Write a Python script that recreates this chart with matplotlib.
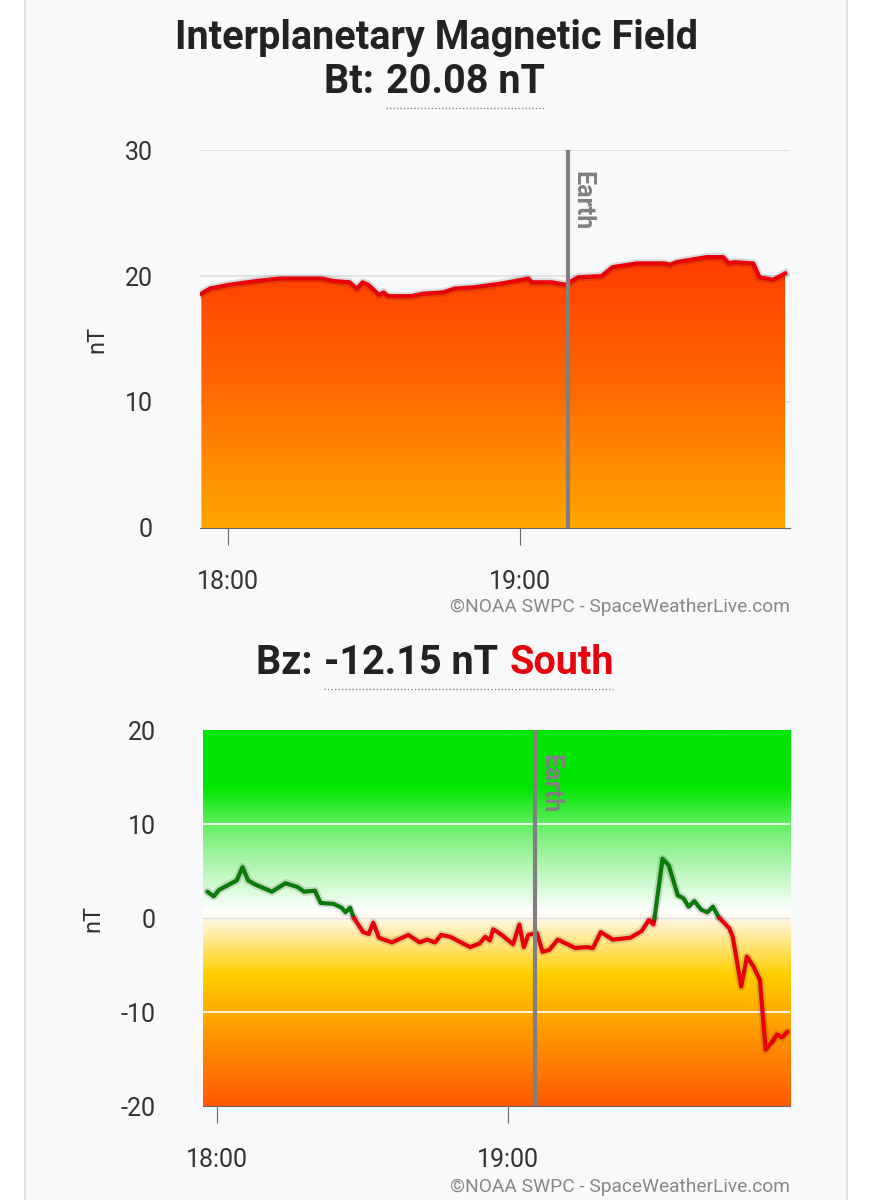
import numpy as np
import matplotlib
matplotlib.use("Agg")
from matplotlib import pyplot as plt, patches
from matplotlib.colors import LinearSegmentedColormap
import matplotlib.patheffects as pe

plt.rcParams['font.family'] = ['Roboto', 'DejaVu Sans']
plt.rcParams['axes.unicode_minus'] = False

# minutes relative to 18:00
bt_min = [-5.47, -3.72, 0.14, 5.85, 10.64, 19.27, 21.72, 24.99, 26.51, 27.67, 28.84, 31.06, 31.99,
          32.93, 37.71, 40.16, 44.25, 46.58, 50.43, 56.15, 61.75, 62.45, 66.53, 69.45, 70.62, 72.02,
          76.8, 79.02, 84.04, 89.76, 90.92, 92.2, 98.39, 101.77, 102.94, 104.1, 107.96, 109.24,
          112.04, 114.5]
bt_val = [18.6, 19.0, 19.3, 19.6, 19.8, 19.8, 19.6, 19.5, 19.0, 19.5, 19.3, 18.5, 18.7, 18.4, 18.4, 18.6,
          18.7, 19.0, 19.1, 19.4, 19.8, 19.5, 19.5, 19.3, 19.6, 19.9, 20.0, 20.7, 21.0, 21.0, 20.9,
          21.1, 21.5, 21.5, 21.0, 21.1, 21.0, 19.9, 19.7, 20.2]

bz_min = [-1.99, -0.70, 0.46, 4.08, 5.25, 6.41, 7.7, 11.31, 14.11, 16.57, 17.97, 20.18, 21.35, 24.03,
          25.67, 26.48, 27.42, 28.12, 30.1, 31.27, 32.2, 33.37, 36.05, 39.44, 41.77, 43.29, 44.92,
          46.22, 48.07, 52.16, 54.14, 55.31, 56.24, 56.94, 58.69, 61.03, 62.31, 63.24, 64.17, 65.93,
          67.09, 68.49, 70.24, 73.86, 76.19, 77.48, 79.11, 81.56, 85.18, 87.51, 89.03, 89.96, 90.2,
          91.83, 93.11, 94.98, 96.15, 97.2, 98.37, 99.77, 101.05, 102.22, 103.38, 105.6, 106.3,
          108.05, 109.22, 110.62, 111.9, 113.07, 114.7, 115.4, 116.45, 117.62]
bz_val = [2.8, 2.3, 3.0, 4.0, 5.4, 4.0, 3.6, 2.8, 3.7, 3.3, 2.8, 2.9, 1.6, 1.5, 1.1, 0.6,
          1.1, 0.1, -1.5, -1.7, -0.5, -2.1, -2.6, -1.8, -2.6, -2.3, -2.6, -1.8, -2.0, -3.1, -2.7, -2.0,
          -2.4, -1.2, -1.8, -2.8, -0.7, -3.1, -1.8, -1.6, -3.6, -3.4, -2.3, -3.2, -3.1, -3.2, -1.5,
          -2.3, -2.1, -1.4, -0.2, -0.7, 0.1, 6.3, 5.6, 2.4, 2.1, 1.2, 1.8, 0.9, 0.6, 1.2,
          0.1, -1.1, -2.0, -7.3, -4.1, -5.2, -6.6, -14.0, -13.0, -12.4, -12.7, -12.1]

tick_min = [0, 60]
tick_lbl = ['18:00', '19:00']
earth_bt = 69.86
earth_bz = 65.6

fig = plt.figure(figsize=(8.72, 12), dpi=100)
fig.add_artist(patches.Rectangle((25 / 872, -0.01), 822 / 872, 1.02, transform=fig.transFigure,
                                 facecolor='#f8f9fa', edgecolor='#d8d8d8', lw=1.2, zorder=-5))

glow = [pe.Stroke(linewidth=6, foreground=(0, 0, 0, 0.12)), pe.Normal()]
tc = '#333333'


def style_axes(ax, xlim, ylim, yticks):
    ax.set_xlim(*xlim)
    ax.set_ylim(*ylim)
    ax.set_facecolor('none')
    for s in ['top', 'right', 'left']:
        ax.spines[s].set_visible(False)
    ax.spines['bottom'].set_color('#666666')
    ax.set_yticks(yticks)
    ax.set_xticks(tick_min)
    ax.set_xticklabels(tick_lbl)
    ax.tick_params(axis='y', length=0, labelsize=18, labelcolor=tc, pad=34)
    ax.tick_params(axis='x', length=12, color='#666666', labelsize=18, labelcolor=tc, pad=18)
    ax.set_ylabel('nT', fontsize=17, color=tc, labelpad=12)


# ---- Bt ----
ax1 = fig.add_axes([200 / 872, 1 - 528 / 1200, 590 / 872, 378 / 1200])
xl1 = (-5.75, 115.5)
style_axes(ax1, xl1, (0, 30), [0, 10, 20, 30])
for g in [10, 20, 30]:
    ax1.axhline(g, color='#dddddd', lw=1.2, zorder=1)
cm1 = LinearSegmentedColormap.from_list('bt', ['#ffa800', '#ff6a00', '#ff3c00'])
grad = np.linspace(0, 1, 256).reshape(-1, 1)
im = ax1.imshow(grad, cmap=cm1, aspect='auto', origin='lower',
                extent=[xl1[0], xl1[1], 0, 21.6], zorder=2)
clip = patches.Polygon(np.vstack([[bt_min[0], 0]] + [list(zip(bt_min, bt_val))] + [[bt_min[-1], 0]]),
                       transform=ax1.transData, facecolor='none', edgecolor='none')
ax1.add_patch(clip)
im.set_clip_path(clip)
ax1.set_xlim(*xl1)
ax1.plot(bt_min, bt_val, color='#e8000b', lw=3, zorder=3, path_effects=glow)
ax1.axvline(earth_bt, color='#808080', lw=3, zorder=4)
ax1.text(earth_bt + 0.6, 28.3, 'Earth', rotation=-90, va='top', ha='left', color='#808080',
         fontsize=18, fontweight='bold', zorder=5)
fig.text(790 / 872, 1 - 607 / 1200, '©NOAA SWPC - SpaceWeatherLive.com', ha='right', va='center',
         fontsize=13.8, color='#888888')

# ---- Bz ----
ax2 = fig.add_axes([203 / 872, 1 - 1106 / 1200, 587 / 872, 376 / 1200])
xl2 = (-2.89, 118.1)
style_axes(ax2, xl2, (-20, 20), [-20, -10, 0, 10, 20])
cm2 = LinearSegmentedColormap.from_list('bz', [
    (0.0, '#ff5a00'), (0.2, '#ff9a00'), (0.35, '#ffd000'), (0.5, '#fff8e8'),
    (0.52, '#ffffff'), (0.72, '#7cf07c'), (0.85, '#00e600'), (1.0, '#00e600')])
ax2.imshow(grad, cmap=cm2, aspect='auto', origin='lower', extent=[xl2[0], xl2[1], -20, 20], zorder=0)
for g in [-10, 0, 10]:
    ax2.axhline(g, color='white', lw=1.5, alpha=0.85, zorder=1)
ax2.axhline(0, color='#cccccc', lw=1, alpha=0.6, zorder=1)

# split the series where it crosses zero
xs, ys = [bz_min[0]], [bz_val[0]]
segs = []
for i in range(1, len(bz_min)):
    x0, y0, x1, y1 = bz_min[i - 1], bz_val[i - 1], bz_min[i], bz_val[i]
    if (y0 >= 0) != (y1 >= 0):
        xc = x0 + (x1 - x0) * (0 - y0) / (y1 - y0)
        xs.append(xc); ys.append(0)
        segs.append((xs, ys, y0 >= 0))
        xs, ys = [xc], [0]
    xs.append(x1); ys.append(y1)
segs.append((xs, ys, ys[-1] >= 0))
for sx, sy, pos in segs:
    ax2.plot(sx, sy, color='#0a7a0a' if pos else '#e8000b', lw=3, zorder=3, path_effects=glow,
             solid_capstyle='round')
ax2.set_xlim(*xl2)
ax2.axvline(earth_bz, color='#808080', lw=3, zorder=4)
ax2.text(earth_bz + 0.6, 17.5, 'Earth', rotation=-90, va='top', ha='left', color='#808080',
         fontsize=18, fontweight='bold', zorder=5)
fig.text(790 / 872, 1 - 1187 / 1200, '©NOAA SWPC - SpaceWeatherLive.com', ha='right', va='center',
         fontsize=13.8, color='#888888')

# ---- titles ----
fs = 28.5
tk = dict(va='center', fontsize=fs, fontweight='bold', color='#222222')
fig.text(436 / 872, 1 - 38 / 1200, 'Interplanetary Magnetic Field', ha='center', **tk)
fig.text(384 / 872, 1 - 82 / 1200, 'Bt: ', ha='right', **tk)
fig.text(386 / 872, 1 - 82 / 1200, '20.08 nT', ha='left', **tk)
fig.add_artist(plt.Line2D([386 / 872, 545 / 872], [1 - 108 / 1200] * 2, transform=fig.transFigure,
                          color='#888888', lw=1, ls=(0, (1, 1.5))))
fig.text(322 / 872, 1 - 663 / 1200, 'Bz: ', ha='right', **tk)
bzt = fig.text(324 / 872, 1 - 663 / 1200, '-12.15 nT', ha='left', **tk)
fig.canvas.draw()
x_end = bzt.get_window_extent().x1
fig.text((x_end + 12) / 872, 1 - 663 / 1200, 'South', ha='left',
         **{**tk, 'color': '#e8000b'})
fig.add_artist(plt.Line2D([324 / 872, 613 / 872], [1 - 689 / 1200] * 2, transform=fig.transFigure,
                          color='#888888', lw=1, ls=(0, (1, 1.5))))

fig.savefig('out.png', dpi=100, facecolor='white')
